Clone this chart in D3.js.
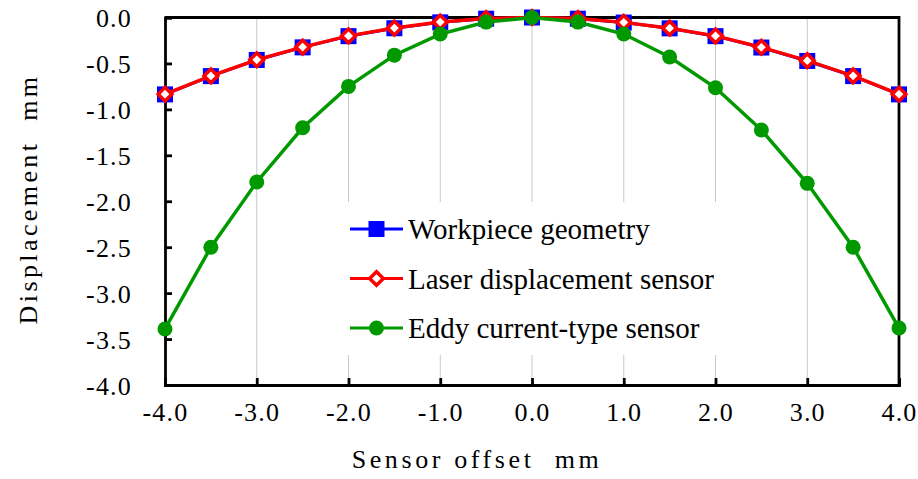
<!DOCTYPE html>
<html>
<head>
<meta charset="utf-8">
<script src="https://cdn.jsdelivr.net/npm/d3@7"></script>
<style>
  body { margin: 0; background: #fff; }
  svg text { font-family: "Liberation Serif", "Times New Roman", Times, serif; fill: #000; }
</style>
</head>
<body>
<div id="chart"></div>
<script>
// sensor offset positions (mm)
var offsets = [-4.0, -3.5, -3.0, -2.5, -2.0, -1.5, -1.0, -0.5, 0.0, 0.5, 1.0, 1.5, 2.0, 2.5, 3.0, 3.5, 4.0];
var workpiece = [-0.837, -0.638, -0.462, -0.325, -0.203, -0.117, -0.053, -0.013, 0.0, -0.013, -0.055, -0.118, -0.203, -0.327, -0.473, -0.638, -0.837];
var laser = [-0.835, -0.636, -0.460, -0.322, -0.200, -0.115, -0.050, -0.012, 0.0, -0.012, -0.053, -0.116, -0.200, -0.324, -0.470, -0.635, -0.835];
var eddy = [-3.39, -2.50, -1.79, -1.20, -0.75, -0.41, -0.18, -0.05, 0.0, -0.05, -0.18, -0.43, -0.765, -1.225, -1.805, -2.50, -3.38];
var xTicks = [-4, -3, -2, -1, 0, 1, 2, 3, 4];
var yTicks = [0, -0.5, -1, -1.5, -2, -2.5, -3, -3.5, -4];
var seriesNames = ["Workpiece geometry", "Laser displacement sensor", "Eddy current-type sensor"];

var width = 918, height = 479;
var padding = { top: 17.5, right: 19, bottom: 94, left: 165 };
var serif = "'Liberation Serif', 'Times New Roman', Times, serif";

var svg = d3.select("#chart")
    .append("svg")
    .attr("width", width)
    .attr("height", height);

var xScale = d3.scaleLinear()
    .domain([-4, 4])
    .range([padding.left, width - padding.right]);
var yScale = d3.scaleLinear()
    .domain([-4, 0])
    .range([height - padding.bottom, padding.top]);

// tick labels with a plain hyphen, like the original
var fmt = function(d) { return d3.format(".1f")(d).replace("\u2212", "-"); };

// vertical grid lines
svg.append("g")
    .selectAll("line")
    .data(xTicks.slice(1, -1))
    .enter()
    .append("line")
    .attr("x1", function(d) { return xScale(d); })
    .attr("x2", function(d) { return xScale(d); })
    .attr("y1", yScale(0))
    .attr("y2", yScale(-4))
    .attr("stroke", "#c8c8c8")
    .attr("stroke-width", 1);

// legend background hides the grid
svg.append("rect")
    .attr("x", 335)
    .attr("y", 202)
    .attr("width", 395)
    .attr("height", 153)
    .attr("fill", "#fff");

// axes (ticks inside)
var xAxis = d3.axisBottom(xScale).tickValues(xTicks).tickSize(-7).tickPadding(18).tickFormat(fmt);
var yAxis = d3.axisLeft(yScale).tickValues(yTicks).tickSize(-7).tickPadding(32).tickFormat(fmt);

var gx = svg.append("g")
    .attr("transform", "translate(0," + yScale(-4) + ")")
    .call(xAxis);
var gy = svg.append("g")
    .attr("transform", "translate(" + xScale(-4) + ",0)")
    .call(yAxis);

[gx, gy].forEach(function(g) {
    g.attr("font-family", serif).attr("font-size", 26);
    g.select(".domain").attr("stroke", "#000").attr("stroke-width", 2.8);
    g.selectAll(".tick line").attr("stroke", "#000").attr("stroke-width", 2.8);
    g.selectAll(".tick text")
        .style("font-family", serif)
        .style("font-size", "26px")
        .style("letter-spacing", "1.2px")
        .attr("fill", "#000");
});
gx.selectAll(".tick text").attr("dy", "0.71em");
gy.selectAll(".tick text").attr("dy", "0.35em").attr("x", -33);

// top & right frame
svg.append("path")
    .attr("d", "M" + xScale(-4) + "," + yScale(0) + "H" + xScale(4) + "V" + yScale(-4))
    .attr("fill", "none")
    .attr("stroke", "#000")
    .attr("stroke-width", 2.8);

var colors = ["#0000ff", "#ff0000", "#009900"];
var allSeries = [workpiece, laser, eddy];

function lineFor(vals) {
    return d3.line()
        .x(function(d, i) { return xScale(offsets[i]); })
        .y(function(d) { return yScale(d); })(vals);
}

function drawMarker(g, k, x, y) {
    if (k === 0) {
        g.append("rect")
            .attr("x", x - 8).attr("y", y - 8)
            .attr("width", 16).attr("height", 16)
            .attr("fill", colors[0]);
    } else if (k === 1) {
        g.append("path")
            .attr("d", d3.symbol().type(d3.symbolDiamond2).size(120)())
            .attr("transform", "translate(" + x + "," + y + ")")
            .attr("fill", "#fff")
            .attr("stroke", colors[1])
            .attr("stroke-width", 3.5);
    } else {
        g.append("circle")
            .attr("cx", x).attr("cy", y).attr("r", 7.5)
            .attr("fill", colors[2]);
    }
}

[0, 1, 2].forEach(function(k) {
    var g = svg.append("g");
    g.append("path")
        .attr("d", lineFor(allSeries[k]))
        .attr("fill", "none")
        .attr("stroke", colors[k])
        .attr("stroke-width", k === 0 ? 3 : 3.5);
    allSeries[k].forEach(function(v, i) {
        drawMarker(g, k, xScale(offsets[i]), yScale(v));
    });
});

// legend
var legendY = [229, 278.5, 328];
seriesNames.forEach(function(name, k) {
    var g = svg.append("g");
    g.append("line")
        .attr("x1", 350).attr("x2", 403)
        .attr("y1", legendY[k]).attr("y2", legendY[k])
        .attr("stroke", colors[k])
        .attr("stroke-width", 3);
    drawMarker(g, k, 376.5, legendY[k]);
    g.append("text")
        .attr("x", 408)
        .attr("y", legendY[k] + 10)
        .style("font-family", serif)
        .style("font-size", "29px")
        .text(name);
});

// axis titles
svg.append("text")
    .attr("x", 477)
    .attr("y", 468)
    .attr("text-anchor", "middle")
    .style("font-family", serif)
    .style("font-size", "26px")
    .style("letter-spacing", "3.6px")
    .text("Sensor offset\u00a0\u00a0mm");

svg.append("text")
    .attr("transform", "translate(37," + 199 + ") rotate(-90)")
    .attr("text-anchor", "middle")
    .style("font-family", serif)
    .style("font-size", "26px")
    .style("letter-spacing", "3.4px")
    .text("Displacement\u00a0\u00a0mm");
</script>
</body>
</html>
